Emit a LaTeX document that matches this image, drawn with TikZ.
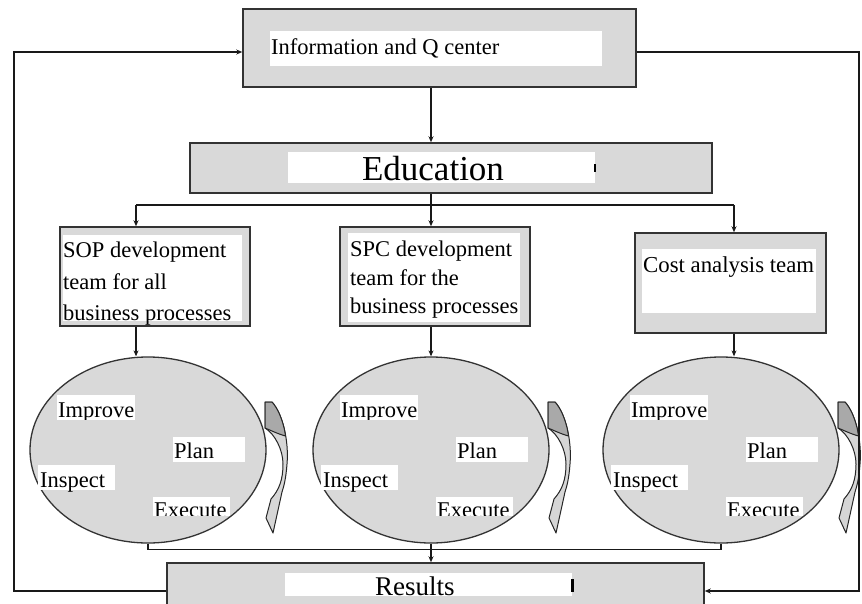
\documentclass[tikz,border=0pt]{standalone}
\usepackage{fontspec}
\setmainfont{Liberation Serif}
\usetikzlibrary{arrows.meta,shapes.geometric}
\definecolor{boxgray}{HTML}{D9D9D9}
\definecolor{arrowdark}{HTML}{A9A9A9}
\definecolor{arrowlight}{HTML}{D6D6D6}
\tikzset{
  box/.style={draw=black!80, line width=1.5pt, fill=boxgray, inner sep=0pt, rectangle},
  conn/.style={line width=1.3pt, draw=black!90},
  arr/.style={conn, -{Stealth[length=6pt,width=5pt]}},
  lbl/.style={inner sep=0pt, anchor=base west, font=\fontsize{22.5}{27}\selectfont},
  oval/.style={ellipse, draw=black!80, line width=1.3pt, fill=boxgray, minimum width=236pt, minimum height=186pt, inner sep=0pt},
  curv/.style={draw=black!85, line width=1pt, line join=round}
}
\newcommand\pdcacycle[2]{%
  \node[oval] (#1) at (#2,450) {};
  \begin{scope}[shift={(#2,450)}]
    \fill[white] (-91,-55) rectangle (-13,-30);
    \begin{scope}\clip (-95,-62) rectangle (-10,-31);
      \node[lbl] (#1imp) at (-90,-33) {Improve};
    \end{scope}
    \fill[white] (25,-13) rectangle (97,12);
    \node[lbl] (#1plan) at (26,8) {Plan};
    \fill[white] (-110,15) rectangle (-33,40);
    \node[lbl] (#1insp) at (-108,37) {Inspect};
    \fill[white] (5,47) rectangle (82,66);
    \begin{scope}\clip (0,40) rectangle (90,65);
      \node[lbl] (#1exe) at (6,67) {Execute};
    \end{scope}
    \begin{scope}[shift={(117,-48)}]
      \filldraw[curv, fill=arrowlight] (0,0) -- (7,0) .. controls (18,12) and (24,40) .. (22,62)
        .. controls (21,76) and (19,84) .. (17,90) -- (8,131) -- (1,116) -- (6,97)
        .. controls (14,88) and (18,78) .. (18,62) .. controls (18,48) and (10,32) .. (0,26) -- cycle;
      \filldraw[curv, fill=arrowdark] (0,0) -- (7,0) .. controls (12.5,6) and (16.75,16) .. (19.4,27.25)
        -- (20.5,34) .. controls (13,32) and (5,28) .. (0,26) -- cycle;
    \end{scope}
  \end{scope}}
\begin{document}
\begin{tikzpicture}[x=1pt,y=-1pt]
\useasboundingbox (0,0) rectangle (862,603);
% boxes
\node[box, minimum width=393pt, minimum height=78pt] (info) at (439.5,48) {};
\fill[white] (270,31) rectangle (602,66);
\node[lbl, font=\fontsize{22.5}{27}\selectfont] (infot) at (271,54) {Information and Q center};

\node[box, minimum width=522pt, minimum height=50pt] (edu) at (451,168) {};
\fill[white] (288,152) rectangle (595,183);
\node[inner sep=0pt, anchor=base, font=\fontsize{35}{40}\selectfont] (edut) at (433,180) {Education};
\fill[black] (594,164) rectangle (596,172);

\node[box, minimum width=190pt, minimum height=99pt] (sop) at (155,276.5) {};
\fill[white] (63,235) rectangle (242,321);
\node[lbl] (sop1) at (63,257) {SOP development};
\node[lbl] (sop2) at (63,289) {team for all};
\node[lbl] (sop3) at (63,320) {business processes};

\node[box, minimum width=190pt, minimum height=99pt] (spc) at (435,276.5) {};
\fill[white] (348,233) rectangle (520,322);
\node[lbl] (spc1) at (350,256) {SPC development};
\node[lbl] (spc2) at (350,285) {team for the};
\node[lbl] (spc3) at (350,313) {business processes};

\node[box, minimum width=191pt, minimum height=100pt] (cost) at (730.5,283) {};
\fill[white] (642,249) rectangle (816,313);
\node[lbl, font=\fontsize{22.8}{27}\selectfont] (costt) at (643,272) {Cost analysis team};

\node[box, minimum width=537pt, minimum height=52pt] (res) at (435.5,589) {};
\fill[white] (285,573) rectangle (572,596);
\node[lbl, font=\fontsize{27}{32}\selectfont] (rest) at (375,595) {Results};
\fill[black] (571,579) rectangle (574,592);

% cycles
\pdcacycle{c1}{148}
\pdcacycle{c2}{431}
\pdcacycle{c3}{721}

% connectors
\coordinate (d1) at (136,205);
\coordinate (d2) at (431,205);
\coordinate (d3) at (734,205);
\coordinate (j) at (431,549);
\coordinate (lt) at (14,52);
\coordinate (lb) at (14,591);
\coordinate (rt) at (859,52);
\coordinate (rb) at (859,591);

\draw[arr] (info.south -| d2) -- (edu.north -| d2);
\draw[conn] (edu.south -| d2) -- (d2);
\draw[conn] (d1) -- (d3);
\draw[arr] (d1) -- (sop.north -| d1);
\draw[arr] (d2) -- (spc.north -| d2);
\draw[arr] (d3) -- (cost.north -| d3);
\draw[arr] (sop.south -| d1) -- (c1.north -| d1);
\draw[arr] (spc.south -| d2) -- (c2.north -| d2);
\draw[arr] (cost.south -| d3) -- (c3.north -| d3);
\draw[conn] (c1.south) -- ++(0,6) -| (j);
\draw[conn] (c3.south) -- ++(0,6) -| (j);
\draw[arr] (c2.south) -- (res.north -| c2.south);
\draw[arr] (res.west |- lb) -- (lb) -- (lt) -- (info.west |- lt);
\draw[arr] (info.east |- rt) -- (rt) -- (rb) -- (res.east |- rb);
\end{tikzpicture}
\end{document}
